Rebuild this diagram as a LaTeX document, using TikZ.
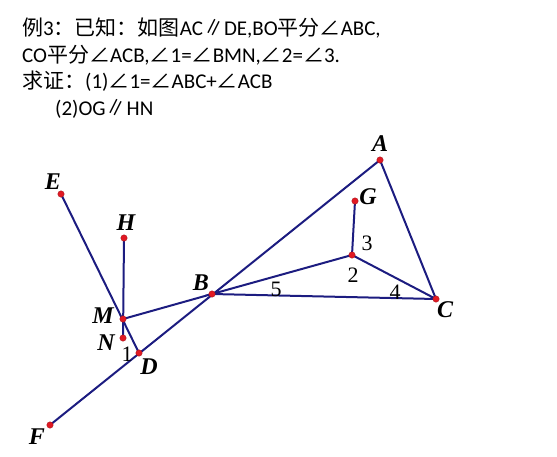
\documentclass[tikz,border=0pt]{standalone}
\usepackage{fontspec}
\setmainfont{Carlito}
\newfontfamily\cjk{Noto Sans CJK SC}
\newfontfamily\geofont{Liberation Serif}
\definecolor{navy}{RGB}{28,28,128}
\definecolor{ptred}{RGB}{225,25,35}
\tikzset{
	seg/.style={navy, line width=2pt},
	pt/.style={circle, fill=ptred, draw=ptred!70!black, line width=0.3pt, inner sep=0pt, minimum size=6.5pt},
	lab/.style={inner sep=0pt, font=\geofont\bfseries\itshape\fontsize{24}{24}\selectfont},
	num/.style={inner sep=0pt, font=\geofont\fontsize{22}{22}\selectfont},
	txt/.style={anchor=base west, inner sep=0pt, font=\fontsize{21}{21}\selectfont}
}
\begin{document}
\begin{tikzpicture}[x=1pt, y=-1pt]
			\useasboundingbox (0,0) rectangle (557,456);
			\node[txt] (line1) at (22,35) {{\cjk 例}3{\cjk ：已知：如图}AC{\cjk ∥}DE,BO{\cjk 平分∠}ABC,};
			\node[txt] (line2) at (22,62) {CO{\cjk 平分∠}ACB,{\cjk ∠}1={\cjk ∠}BMN,{\cjk ∠}2={\cjk ∠}3.};
			\node[txt] (line3) at (22,88) {{\cjk 求证：}(1){\cjk ∠}1={\cjk ∠}ABC+{\cjk ∠}ACB};
			\node[txt] (line4) at (55,115) {(2)OG{\cjk ∥}HN};

			\coordinate (A) at (380,160);
			\coordinate (G) at (355,201);
			\coordinate (O) at (352,255);
			\coordinate (B) at (212,294);
			\coordinate (C) at (436,299);
			\coordinate (E) at (61,194);
			\coordinate (H) at (124,238);
			\coordinate (M) at (123,319);
			\coordinate (N) at (123,338);
			\coordinate (D) at (139,353);
			\coordinate (F) at (50,425);

			\draw[seg] (A) -- (F);
			\draw[seg] (A) -- (C) -- (B) -- (O) -- (C);
			\draw[seg] (O) -- (G);
			\draw[seg] (E) -- (D);
			\draw[seg] (H) -- (N);
			\draw[seg] (M) -- (B);
			\foreach \p in {A,B,C,D,E,F,G,H,M,N,O}
				\node[pt] (dot\p) at (\p) {};

			\node[lab] (labA) at (380,144) {A};
			\node[lab] (labG) at (368,197) {G};
			\node[lab] (labC) at (445,310) {C};
			\node[lab] (labB) at (201,283) {B};
			\node[lab] (labE) at (53,182) {E};
			\node[lab] (labH) at (126,223) {H};
			\node[lab] (labM) at (103,316) {M};
			\node[lab] (labN) at (106,343) {N};
			\node[lab] (labD) at (149,367) {D};
			\node[lab] (labF) at (37,437) {F};
			\node[num] (ang1) at (127,354) {1};
			\node[num] (ang2) at (353,275) {2};
			\node[num] (ang3) at (367,243) {3};
			\node[num] (ang4) at (395,292) {4};
			\node[num] (ang5) at (276,289) {5};
\end{tikzpicture}
\end{document}
